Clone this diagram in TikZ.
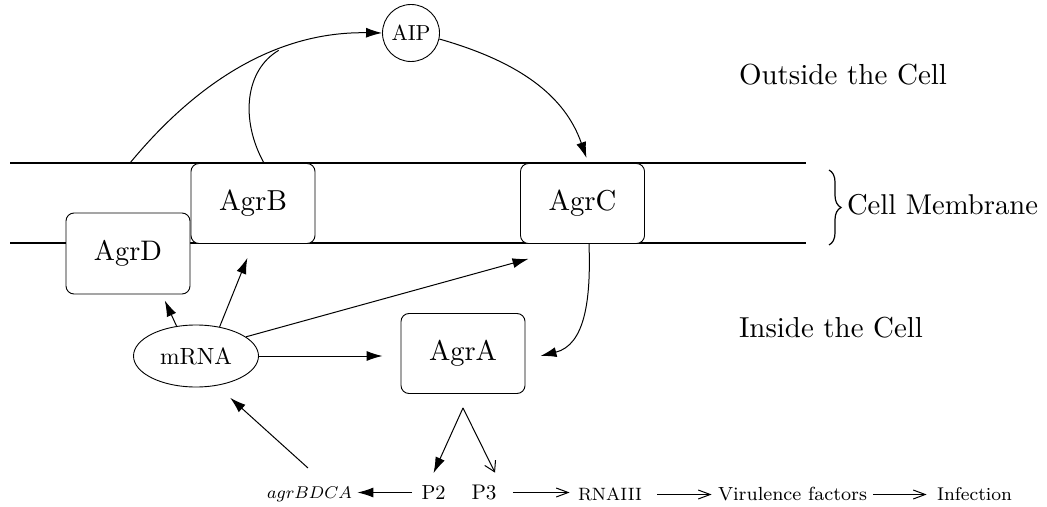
\documentclass[tikz,border=0pt]{standalone}
\usepackage{graphicx}
\usetikzlibrary{arrows.meta,calc,decorations.pathreplacing,shapes.geometric}
\newcommand{\fitw}[2]{\resizebox{#1pt}{!}{#2}}
\newcommand{\fits}[2]{\resizebox{#1pt}{!}{\fontsize{8}{9}\selectfont #2}}
\begin{document}
\begin{tikzpicture}[x=0.5pt,y=-0.5pt,
  box/.style={draw, rounded corners=4pt, fill=white, minimum width=62pt, minimum height=40pt, line width=0.45pt, inner sep=0pt},
  lbl/.style={inner sep=0pt},
  arr/.style={line width=0.5pt,-{Latex[length=8pt,width=5pt]}},
  barb/.style={line width=0.5pt,-{Straight Barb[length=5pt,width=6pt]}},
  chain/.style={line width=0.5pt,-{Straight Barb[length=6pt,width=4.5pt]}},
  mem/.style={line width=1.4pt}]
\useasboundingbox (0,0) rectangle (1047,507);
% membrane
\coordinate (mtl) at (10,163); \coordinate (mtr) at (806,163);
\coordinate (mbl) at (10,243); \coordinate (mbr) at (806,243);
\draw[mem] (mtl) -- (mtr);
\draw[mem] (mbl) -- (mbr);
% proteins
\node[box] (agrb) at (253,203.5) {\fitw{34}{AgrB}};
\node[box] (agrc) at (582.5,203.5) {\fitw{34}{AgrC}};
\node[box, minimum height=40.5pt] (agrd) at (128,253.5) {\fitw{34}{AgrD}};
\node[box] (agra) at (463,353.5) {\fitw{34}{AgrA}};
\node[draw, ellipse, minimum width=62.5pt, minimum height=31pt, inner sep=0pt, line width=0.45pt] (mrna) at (196,356) {\fitw{36}{mRNA}};
\node[draw, circle, minimum size=28.5pt, inner sep=0pt, line width=0.45pt] (aip) at (411,33) {\fitw{19.5}{AIP}};
% side labels
\node[lbl] (outside) at (843,75) {\fitw{104}{Outside the Cell}};
\node[lbl] (membrane) at (942.5,205) {\fitw{95.5}{Cell Membrane}};
\node[lbl] (inside) at (831,328) {\fitw{92}{Inside the Cell}};
\draw[line width=0.6pt, decorate, decoration={brace, amplitude=6pt}] (829,170) -- (829,245);
% bottom row
\node[lbl] (bdca) at (309.5,494) {\fits{42.5}{$agrBDCA$}};
\node[lbl] (p2) at (433.5,492.5) {\fitw{12}{P2}};
\node[lbl] (p3) at (484,492.5) {\fitw{12.5}{P3}};
\node[lbl] (rna) at (610,494.5) {\fits{32}{RNAIII}};
\node[lbl] (vir) at (792.5,494.5) {\fits{74.5}{Virulence factors}};
\node[lbl] (inf) at (974.5,494.5) {\fits{37.5}{Infection}};
% AIP secretion and sensing
\coordinate (sec) at (130,163);
\draw[arr] (sec) .. controls (182,100) and (262,31) .. (aip.west) coordinate[pos=0.68] (join);
\draw[line width=0.5pt] ([xshift=5.5pt]agrb.north) .. controls (240,120) and (245,70) .. (join);
\draw[arr] (aip.-12) .. controls (520,62) and (565,96) .. ([xshift=2pt,yshift=2.5pt]agrc.north);
\draw[arr] ([xshift=3.25pt]agrc.south) .. controls (591,300) and (585,345) .. ($(agra.east)+(15,2.5)$);
% translation
\draw[arr, shorten >=3.3pt] (mrna.123) -- ([xshift=17pt]agrd.south);
\draw[arr, shorten >=7.5pt] (mrna.51) -- (agrb.south);
\draw[arr, shorten >=28pt] (mrna.21) -- (agrc.south);
\draw[arr, shorten >=9pt] (mrna.east) -- (mrna.east -| agra.west);
\draw[arr, shorten >=9pt] ($(bdca.center)+(-1.5,-26)$) -- (mrna.-55);
% promoters
\draw[arr] ($(agra.south)+(0,14)$) -- ($(p2.north)+(0,-12)$);
\draw[barb] ($(agra.south)+(0,14)$) -- ($(p3.north)+(11,-12)$);
\draw[arr, shorten <=4.5pt, shorten >=2.5pt] (p2.west) -- (p2.west -| bdca.east);
\draw[chain, shorten <=8pt, shorten >=4pt] (p3.east) -- (p3.east -| rna.west);
\draw[chain, shorten <=7.5pt, shorten >=3pt] (rna.east) -- (vir.west);
\draw[chain, shorten <=3pt, shorten >=5pt] (vir.east) -- (inf.west);
\end{tikzpicture}
\end{document}
